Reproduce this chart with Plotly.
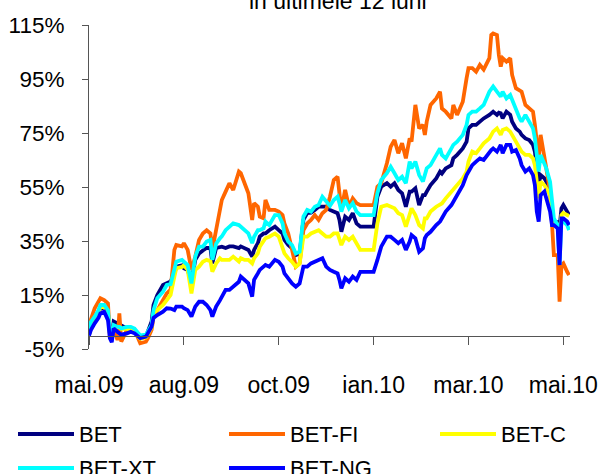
import plotly.graph_objects as go

# trading-day index (0 = start of the 12-month window)
day = [0, 1, 3, 5, 6, 8, 10, 11, 12, 13, 15, 16, 17, 20, 22, 24, 26, 27, 30, 31,
       33, 34, 36, 39, 41, 43, 45, 46, 49, 50, 52, 54, 56, 58, 60, 62, 64, 65, 67, 69,
       70, 72, 74, 76, 79, 80, 82, 84, 86, 87, 89, 90, 92, 93, 95, 98, 100, 102, 103, 105,
       107, 109, 111, 113, 115, 117, 119, 121, 123, 125, 127, 129, 131, 132, 133, 135, 137, 139, 141, 143,
       147, 150, 152, 154, 157, 159, 161, 163, 165, 167, 169, 170, 172, 174, 176, 177, 178, 180, 183, 185,
       186, 188, 191, 192, 194, 197, 199, 200, 202, 204, 206, 208, 211, 212, 213, 215, 216, 217, 218, 220,
       222, 223, 225, 227, 228, 230, 232, 234, 235, 236, 237, 238, 240, 241, 243, 244, 245, 247, 248, 249,
       250, 252, 253]

bet = [0, 4, 5.7, 8.3, 10.1, 10.1, 8.3, 1, -1, 5.2, 4.5, 4, 3.5, 2.6, 1.9, 1.9, -0.4, -1, -0.4, 1.4,
       5.2, 11.3, 15, 18.7, 19.5, 20, 23, 25.5, 26, 24.9, 24.3, 19.9, 28, 30.4, 31.5, 32.4, 32.4, 26.7, 32.4, 32.9,
       32.9, 32.4, 33, 33, 32.4, 33, 32.4, 31.7, 29.2, 31.7, 34.2, 36.6, 37.8, 37.8, 39, 40.3, 39, 37.8, 35.4, 33.5,
       32.3, 29.8, 30.4, 42.8, 45.3, 45.5, 46.5, 47.7, 47.7, 47.7, 46.5, 45.9, 45.3, 42.8, 38.4, 44, 42.8, 45.3, 41.5, 40.3,
       40.3, 40.3, 51.4, 55.1, 56.4, 55.1, 56.4, 53.9, 52.7, 47.7, 53.3, 53.3, 54.5, 48.3, 52, 52, 53.3, 55.7, 58.2, 60.7,
       60, 61.9, 63.1, 65.6, 66.9, 69.3, 71.8, 76.7, 78, 78, 79.2, 80.4, 81.7, 82.3, 82.9, 81.7, 82.5, 82.3, 80.4, 82.9,
       81.7, 79.2, 76.7, 75.5, 74.3, 73, 72.4, 70.6, 68.1, 61.9, 55.7, 59.4, 58.2, 57, 53.3, 45.9, 42.2, 42, 40, 47.1,
       48.3, 45.9, 44.6]

bet_fi = [0, 6, 10.1, 12.5, 13.8, 13.1, 11.9, -0.4, -1, 3.3, -1.7, 8.2, -2.3, 2.1, 1.4, 2.1, -1.7, -2.9, -2.3, -1.1,
          2.1, 6.8, 9.4, 13.1, 15.6, 17, 31.7, 33.5, 33, 34.2, 31.7, 24.3, 29.2, 35.4, 37.8, 39, 37.8, 31.7, 39, 47.7,
          50.2, 53.3, 56.4, 53.9, 60.7, 60.1, 56.4, 52.7, 42.8, 49, 47.7, 44, 43.4, 50.2, 46.5, 46.5, 45.9, 44.6, 41.5, 37.8,
          31.7, 25.5, 26.7, 39, 41.5, 42.8, 44.6, 42.8, 45.3, 46.5, 51.4, 57.6, 58.8, 52.7, 46.5, 53.9, 47.7, 50.8, 49, 48.3,
          48.3, 48.3, 55.1, 56.4, 63.8, 69.9, 72.4, 67.5, 71.2, 65.6, 73, 71.8, 85.4, 76.7, 78, 74.3, 79.2, 85.4, 87.8, 90.3,
          84.1, 82.9, 80.4, 85.4, 81.7, 86.6, 95.3, 99, 99, 97.7, 100.2, 98.5, 102.7, 111.3, 111.9, 111.3, 103.9, 99.6, 102.7, 101.4,
          102.7, 96.5, 91.6, 90.9, 90.3, 85.4, 84.1, 82.9, 78, 73, 65.6, 74.3, 66.9, 61.9, 53.3, 43.4, 29.8, 29.8, 12.5, 26.1,
          26.7, 23.6, 22.4]

bet_c = [0, 4, 6, 8.5, 10.5, 10.5, 8.5, 0.5, -0.5, 3.5, 3, 3, 2.5, 2.5, 2, 2, -0.5, -1.2, -0.8, 0.5,
         3, 8.2, 9.4, 11.3, 13.1, 15, 21.8, 24.9, 25.4, 26, 24.3, 15.6, 24.3, 25.5, 27.3, 28, 27.5, 23.6, 26.7, 28.6,
         28, 28, 28, 29.2, 27.4, 28.6, 28, 28, 26.7, 28.6, 30.4, 32.9, 34.8, 36, 36.6, 37.8, 36.6, 32.9, 30.4, 28.6,
         27.3, 25.5, 26.7, 36.6, 36.6, 37.8, 38.4, 39, 37.8, 36.6, 36.6, 37.8, 37.8, 36, 33.5, 36.6, 35.4, 36.6, 34.2, 31.7,
         31.7, 31.7, 41.5, 47.7, 48.3, 47.7, 47.1, 45.3, 44.6, 40.3, 44.6, 47.1, 44.6, 40.9, 39.7, 43.4, 43.4, 45.9, 47.7, 48.3,
         48.9, 50.8, 53.3, 54.5, 55.7, 58.2, 60.7, 64.4, 68.1, 67.5, 69.3, 71.2, 73, 74.5, 75.5, 76.7, 75.5, 74.3, 76.1, 76.7,
         75.5, 74.3, 71.8, 69.3, 68.1, 66.9, 66.9, 65.6, 63.1, 57, 50.8, 57, 55.7, 54.5, 52, 44.6, 42.2, 41, 38, 44.6,
         45.4, 44.6, 44.3]

bet_xt = [0, 5, 7, 9.4, 11.3, 11.3, 9.4, 0.9, 0, 3.9, 3.2, 3.2, 2.6, 3.2, 3.2, 2.6, 0.9, 0, 0.3, 1.4,
          3.9, 9.4, 13.8, 16.2, 18.7, 19, 24.3, 27.3, 28, 27.3, 26.1, 19.3, 29.2, 32.9, 32.9, 34.8, 35.4, 28, 34, 36,
          36.7, 39, 40.3, 41.5, 40.9, 40.3, 39, 37.8, 34.2, 36.6, 39, 39, 39.7, 42.2, 40.9, 44.6, 44.6, 41.5, 37.8, 34.8,
          33.5, 30.4, 31, 44, 46.5, 45.9, 47.7, 48.3, 51.4, 49.6, 48, 50.2, 51.4, 49, 45.9, 50.2, 47.1, 49, 45.9, 44.6,
          44.6, 44.6, 52.7, 57.6, 60.1, 62.5, 60.1, 57.6, 58.8, 56.4, 64.4, 61.9, 64.4, 59.4, 57, 59.4, 61.9, 63.1, 66.9, 69.3,
          66.9, 65.6, 69.3, 70.6, 71.8, 74.3, 78, 81.7, 82.9, 82.9, 84.1, 85.4, 90.3, 91.5, 92.2, 90.3, 89.5, 88.5, 90.3, 87.8,
          89.1, 87.2, 84.1, 80.4, 79.2, 81.7, 79.2, 76.7, 73, 65.6, 60.7, 66.9, 63.1, 61.9, 56.9, 48.3, 43.4, 40.9, 26.1, 43.4,
          42.2, 40.9, 39]

bet_ng = [0, 2, 4.5, 6.5, 8.2, 8.8, 5.7, -1, -2.5, 2.6, 1.4, 0.8, 0.3, 0.8, 1.4, 0.8, -0.4, -1, -0.4, 0.8,
          3.3, 6.5, 7.6, 8.8, 10.1, 10, 9.4, 10.7, 10.7, 10.1, 9.4, 7, 10.7, 12.5, 12.5, 11.3, 9.4, 7, 10.7, 13,
          14.3, 16.9, 16.9, 18.1, 19.9, 21.8, 20.6, 19.3, 14.4, 20.6, 23, 24.3, 25.5, 26.1, 25.5, 28, 27.3, 25.5, 23, 21.2,
          19.3, 18.1, 19.3, 25.5, 25.5, 26.7, 27.3, 28, 28.6, 25.5, 24.3, 23.6, 23, 20.6, 17.5, 21.2, 19.9, 21.8, 20.6, 23.6,
          23.6, 23.6, 28, 32.9, 36.6, 36.6, 35.4, 34.2, 35.4, 31.7, 34.8, 37.2, 36, 31, 32.3, 36, 37.2, 38.4, 40.9, 42.2,
          43.4, 45.9, 48.3, 49.6, 52, 55.7, 59.4, 60.7, 63.1, 64.4, 65.6, 65, 68.1, 68.7, 69.3, 68.1, 69.3, 70.6, 67.5, 70.6,
          70.6, 68.1, 68.7, 65.6, 63.1, 60.7, 61.9, 59.4, 55.7, 45.9, 42.2, 52, 53.3, 50.8, 45.9, 40.9, 40.9, 39.7, 26.1, 43.4,
          43.4, 42.2, 40.9]

series_names = ["BET", "BET-FI", "BET-C", "BET-XT", "BET-NG"]
series_values = [bet, bet_fi, bet_c, bet_xt, bet_ng]
series_colors = ["#000080", "#FF6600", "#FFFF00", "#00FFFF", "#0000FF"]

tick_days = [0, 50, 100, 150, 200, 250]
tick_labels = ["mai.09", "aug.09", "oct.09", "ian.10", "mar.10", "mai.10"]

y_tick_vals = [-5, 15, 35, 55, 75, 95, 115]
y_tick_labels = ["-5%", "15%", "35%", "55%", "75%", "95%", "115%"]

title_text = "in ultimele 12 luni"

# ---- layout geometry (pixels) ----
W, H = 601, 474
L, R, T, B = 89, 31, 25, 125
PW, PH = W - L - R, H - T - B
Y_MIN, Y_MAX = -5, 115
FONT = "Liberation Sans, Arial, sans-serif"


def px_x(p):
    return (p - L) / PW


def px_y(p):
    return (H - B - p) / PH


fig = go.Figure()
for name, vals, col in zip(series_names, series_values, series_colors):
    fig.add_trace(go.Scatter(x=day, y=vals, mode="lines", name=name,
                             line=dict(color=col, width=3.8), showlegend=False))

axis_color = "#555555"
fig.update_layout(
    width=W, height=H,
    margin=dict(l=L, r=R, t=T, b=B, pad=0, autoexpand=False),
    paper_bgcolor="white", plot_bgcolor="white",
    font=dict(family=FONT, color="black", size=22),
    showlegend=False,
    xaxis=dict(range=[0, 253.5], tickmode="array", tickvals=tick_days, ticktext=tick_labels,
               showgrid=False, zeroline=False, showline=True, linecolor=axis_color, linewidth=1,
               ticks="outside", ticklen=8, tickcolor=axis_color, tickwidth=1,
               anchor="free", position=(0 - Y_MIN) / (Y_MAX - Y_MIN), automargin=False,
               ticklabeloverflow="allow",
               tickfont=dict(size=23), ticklabelstandoff=21),
    yaxis=dict(range=[Y_MIN, Y_MAX], tickmode="array", tickvals=y_tick_vals, ticktext=y_tick_labels,
               showgrid=False, zeroline=False, showline=True, linecolor=axis_color, linewidth=1,
               ticks="outside", ticklen=6, tickcolor=axis_color, tickwidth=1, automargin=False,
               ticklabeloverflow="allow",
               tickfont=dict(size=22.5), ticklabelstandoff=13),
)

# title (partly above the visible area, as in the original)
fig.add_annotation(text=title_text, xref="paper", yref="paper", x=px_x(338), y=px_y(16.5),
                   xanchor="center", yanchor="bottom", showarrow=False,
                   font=dict(size=23, family=FONT, color="black"))

# legend drawn as line samples + labels in two rows of three columns
col_x = [18, 229, 440]
row_y = [434, 468]
for i, (name, col) in enumerate(zip(series_names, series_colors)):
    cx = col_x[i % 3]
    ry = row_y[i // 3]
    fig.add_shape(type="line", xref="paper", yref="paper",
                  x0=px_x(cx), x1=px_x(cx + 56), y0=px_y(ry), y1=px_y(ry),
                  line=dict(color=col, width=4))
    fig.add_annotation(text=name, xref="paper", yref="paper", x=px_x(cx + 59), y=px_y(ry),
                       xanchor="left", yanchor="middle", showarrow=False,
                       font=dict(size=22, family=FONT, color="black"))

fig.write_html("out.html", config={"displayModeBar": False},
               post_script="document.body.style.margin='0';document.body.style.overflow='hidden';")
